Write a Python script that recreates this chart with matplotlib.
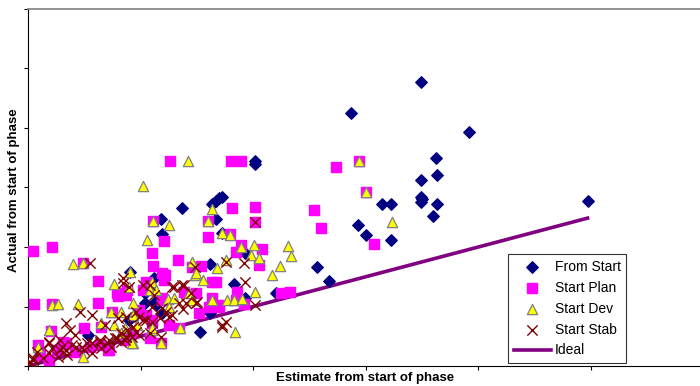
import matplotlib
matplotlib.use("Agg")
import matplotlib.pyplot as plt

# values (x: estimate, y: actual)
from_start_x = [202, 202, 287, 137, 118, 167, 163, 167, 170, 172, 119, 172, 91, 112, 162, 183,
                193, 257, 267, 220, 193, 104, 162, 153, 114, 119, 53, 90, 104, 113,
                349, 392, 362, 363, 349, 349, 350, 349, 363, 314, 322, 360, 293, 300, 322, 497]
from_start_y = [688, 678, 850, 531, 494, 494, 544, 554, 564, 568, 443, 447, 316, 296, 343, 275,
                380, 332, 285, 245, 228, 212, 178, 114, 205, 178, 104, 154, 245, 215,
                954, 786, 699, 641, 625, 568, 561, 551, 544, 544, 544, 504, 474, 440, 423, 554]

start_plan_x = [4, 21, 5, 21, 20, 9, 49, 62, 62, 50, 80, 88, 105, 110, 111, 111, 121, 122, 126,
                133, 146, 154, 163, 160, 160, 181, 180, 189, 179, 189, 185, 202, 202, 208, 205,
                152, 170, 163, 186, 185, 192, 225, 233, 254, 260, 274, 118, 108, 134, 125, 119,
                105, 149, 139, 72, 55, 34, 26, 93, 110, 99, 294, 300, 307, 11, 42, 64, 86,
                119, 121, 87, 119, 161, 167, 170, 102, 110, 84, 75, 65, 31, 71, 19, 79]
start_plan_y = [386, 400, 208, 208, 118, 71, 346, 285, 212, 128, 235, 255, 282, 380, 336, 487,
                420, 306, 688, 356, 332, 336, 282, 433, 487, 531, 688, 688, 443, 406, 383, 534,
                484, 393, 339, 178, 205, 228, 249, 222, 208, 245, 249, 524, 463, 668, 77, 94,
                128, 138, 222, 171, 245, 249, 54, 64, 77, 54, 111, 154, 188, 688, 584, 410, 37,
                47, 71, 87, 312, 289, 238, 228, 198, 282, 198, 255, 144, 104, 181, 131, 81, 54,
                20, 245]

start_dev_x = [142, 102, 111, 125, 106, 160, 163, 172, 179, 189, 201, 198, 205, 231, 234, 224,
               217, 202, 176, 168, 146, 155, 148, 40, 49, 21, 27, 44, 91, 76, 90, 110, 108, 114,
               124, 130, 143, 146, 163, 177, 183, 190, 184, 118, 135, 74, 83, 93, 65, 76, 93, 19,
               9, 49, 110, 294, 300, 323, 93, 97, 110, 86, 83, 92, 125, 149]
start_dev_y = [688, 605, 487, 474, 423, 487, 527, 447, 440, 400, 406, 373, 363, 403, 369, 336,
               306, 249, 356, 329, 349, 289, 306, 343, 346, 205, 208, 208, 316, 275, 265, 282,
               255, 255, 225, 228, 245, 222, 222, 222, 222, 225, 114, 77, 128, 181, 181, 212,
               144, 138, 77, 121, 64, 30, 121, 688, 584, 484, 171, 138, 128, 128, 111, 77, 198,
               312]

start_stab_x = [55, 202, 192, 193, 176, 148, 137, 128, 202, 176, 172, 150, 138, 84, 102, 46, 57,
                34, 19, 2, 4, 13, 19, 28, 34, 43, 52, 57, 64, 72, 79, 87, 96, 99, 105, 110, 117,
                123, 128, 134, 28, 37, 68, 80, 112,
                42, 19, 21, 8, 4, 2, 30, 39, 48, 57, 64, 71, 77, 83, 88, 57, 35, 27, 50, 65, 74,
                86, 92, 84, 90, 108, 130, 139, 145, 149, 140, 110, 119, 125, 102, 93, 108, 118,
                87, 83, 99, 172, 96, 87]
start_stab_y = [346, 484, 346, 282, 349, 332, 272, 265, 205, 148, 138, 215, 191, 296, 272, 181,
                171, 144, 77, 10, 20, 27, 44, 54, 54, 64, 77, 77, 81, 87, 94, 97, 114, 165, 154,
                148, 161, 181, 171, 212, 87, 121, 138, 161, 238,
                104, 81, 60, 47, 27, 13, 64, 71, 64, 77, 87, 77, 94, 111, 121, 44, 37, 30, 54, 60,
                64, 87, 97, 279, 265, 272, 265, 272, 245, 212, 212, 198, 195, 165, 154, 131, 111,
                97, 97, 81, 104, 131, 181, 165]

ideal_x = [0, 497]
ideal_y = [0, 497]

fig = plt.figure(figsize=(7, 3.86), dpi=100)
ax = fig.add_axes([0.04, 0.0518, 0.965, 0.9249])

ax.plot(ideal_x, ideal_y, color="#800080", lw=2.6, zorder=1, label="Ideal")
ax.scatter(from_start_x, from_start_y, marker="D", s=34, color="#000080", zorder=2,
           label="From Start")
ax.scatter(start_plan_x, start_plan_y, marker="s", s=60, color="#FF00FF", zorder=3,
           label="Start Plan")
ax.scatter(start_dev_x, start_dev_y, marker="^", s=55, facecolor="#FFFF00",
           edgecolor="#808080", linewidths=0.9, zorder=4, label="Start Dev")
ax.scatter(start_stab_x, start_stab_y, marker="x", s=55, color="#800000", linewidths=1.0,
           zorder=5, label="Start Stab")

ax.set_xlim(0, 600)
ax.set_ylim(0, 1200)
ax.set_xticks([0, 100, 200, 300, 400, 500])
ax.set_yticks([0, 200, 400, 600, 800, 1000, 1200])
ax.set_xticklabels([])
ax.set_yticklabels([])
ax.tick_params(direction="out", length=3, width=0.8, color="black")

ax.spines["right"].set_visible(False)
ax.spines["top"].set_color("#808080")
ax.spines["top"].set_linewidth(1.2)
ax.spines["left"].set_color("black")
ax.spines["bottom"].set_color("black")

fig.text(365 / 700, 1 - 378 / 386, "Estimate from start of phase", fontsize=9.5,
         fontweight="bold", family="Liberation Sans", ha="center", va="center")
fig.text(14 / 700, 1 - 190 / 386, "Actual from start of phase", fontsize=9.5,
         fontweight="bold", family="Liberation Sans", ha="center", va="center",
         rotation=90)

handles, labels = ax.get_legend_handles_labels()
order = [1, 2, 3, 4, 0]
leg = ax.legend([handles[i] for i in order], [labels[i] for i in order],
                loc="lower left", bbox_to_anchor=(508 / 700, (386 - 363) / 386),
                bbox_transform=fig.transFigure, frameon=True, fancybox=False,
                edgecolor="black", prop={"family": "Liberation Sans", "size": 10},
                handlelength=2.7, labelspacing=0.5, borderpad=0.4, handletextpad=0.25,
                borderaxespad=0)
leg.get_frame().set_linewidth(0.8)

fig.savefig("out.png", dpi=100)
